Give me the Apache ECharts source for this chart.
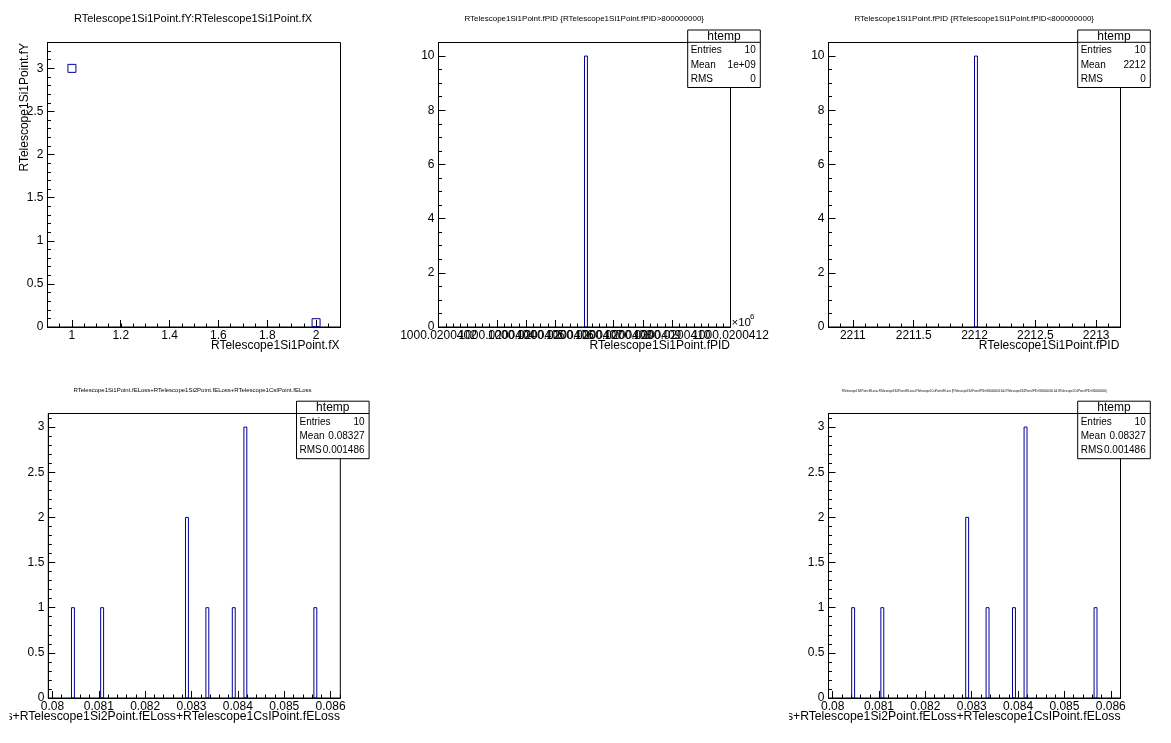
<!DOCTYPE html>
<html>
<head>
<meta charset="utf-8">
<script src="https://cdn.jsdelivr.net/npm/echarts@6/dist/echarts.min.js"></script>
<style>
  html, body { margin: 0; padding: 0; background: #fff; }
  #canvas { width: 1171px; height: 743px; }
</style>
</head>
<body>
<div id="canvas"></div>
<script>
(function() {
  var FONT = '"Liberation Sans", Arial, Helvetica, sans-serif';
  var HIST = '#000099';

  // --- data ---
  // pad 1: fY vs fX scatter
  var scatterX = [1, 2];
  var scatterY = [3, 0.05];
  // pad 2: fPID > 800000000 (x in units of 10^6)
  var pidHighBinLow = [1000.0200407];
  var pidHighCounts = [10];
  var pidHighBinWidth = 0.00000001;
  // pad 3: fPID < 800000000
  var pidLowBinLow = [2212.0];
  var pidLowCounts = [10];
  var pidLowBinWidth = 0.024;
  // pads 4 and 6: summed energy loss
  var elossBinLow = [0.08041, 0.08104, 0.08287, 0.08331, 0.08388, 0.08413, 0.08564];
  var elossCounts = [1, 1, 2, 1, 1, 3, 1];
  var elossBinWidth = 0.000063;

  // --- tick labels ---
  var fxTicks = [1, 1.2, 1.4, 1.6, 1.8, 2];
  var fyTicks = [0, 0.5, 1, 1.5, 2, 2.5, 3];
  var pidHighTicks = [1000.0200402, 1000.0200403, 1000.0200404, 1000.0200405, 1000.0200406,
    1000.0200407, 1000.0200408, 1000.0200409, 1000.0200410, 1000.0200411, 1000.0200412];
  var pidLowTicks = [2211, 2211.5, 2212, 2212.5, 2213];
  var countTicks = [0, 2, 4, 6, 8, 10];
  var elossTicks = [0.08, 0.081, 0.082, 0.083, 0.084, 0.085, 0.086];
  var elossCountTicks = [0, 0.5, 1, 1.5, 2, 2.5, 3];

  // --- stats boxes ---
  var statsPidHigh = [['Entries', '10'], ['Mean', '1e+09'], ['RMS', '0']];
  var statsPidLow = [['Entries', '10'], ['Mean', '2212'], ['RMS', '0']];
  var statsEloss = [['Entries', '10'], ['Mean', '0.08327'], ['RMS', '0.001486']];

  var titleFY = 'RTelescope1Si1Point.fY:RTelescope1Si1Point.fX';
  var titlePidHigh = 'RTelescope1Si1Point.fPID {RTelescope1Si1Point.fPID>800000000}';
  var titlePidLow = 'RTelescope1Si1Point.fPID {RTelescope1Si1Point.fPID<800000000}';
  var elossExpr = 'RTelescope1Si1Point.fELoss+RTelescope1Si2Point.fELoss+RTelescope1CsIPoint.fELoss';
  var titleElossCut = elossExpr + ' {RTelescope1Si1Point.fPID<800000000 && RTelescope1Si2Point.fPID<800000000 && RTelescope1CsIPoint.fPID<800000000}';

  function minorTicks(first, step, last) {
    var out = [];
    var n = Math.round((last - first) / step);
    for (var k = 0; k <= n; k++) out.push(first + k * step);
    return out;
  }

  var grids = [
    { left: 47.5, top: 42.5, width: 293, height: 284.5 },
    { left: 438.5, top: 42.5, width: 292, height: 284.5 },
    { left: 828.5, top: 42.5, width: 292, height: 284.5 },
    { left: 48.3, top: 413.5, width: 292, height: 284.5 },
    { left: 828.5, top: 413.5, width: 292, height: 284.5 }
  ].map(function(g) {
    g.show = true;
    g.borderColor = '#000';
    g.borderWidth = 1;
    g.backgroundColor = 'transparent';
    g.containLabel = false;
    return g;
  });

  var xAxes = [];
  var yAxes = [];

  function addAxes(list, dim, gridIndex, min, max, majors, minors, fmt) {
    var pos = dim === 'x' ? 'bottom' : 'left';
    list.push({
      type: 'value', gridIndex: gridIndex, min: min, max: max, position: pos,
      axisLine: { show: true, onZero: false, lineStyle: { color: '#000', width: 1 } },
      axisTick: { show: true, inside: true, length: 7, customValues: majors, lineStyle: { color: '#000', width: 1 } },
      axisLabel: {
        show: true, customValues: majors, formatter: fmt, color: '#000',
        fontSize: 12, fontFamily: FONT, margin: dim === 'x' ? 3 : 4,
        showMinLabel: true, showMaxLabel: true, hideOverlap: false
      },
      splitLine: { show: false }
    });
    list.push({
      type: 'value', gridIndex: gridIndex, min: min, max: max, position: pos,
      axisLine: { show: false, onZero: false },
      axisTick: { show: true, inside: true, length: 3.5, customValues: minors, lineStyle: { color: '#000', width: 1 } },
      axisLabel: { show: false },
      splitLine: { show: false }
    });
  }

  var plain = function(v) { return String(+v.toFixed(6)); };

  // pad 1
  addAxes(xAxes, 'x', 0, 0.9, 2.1, fxTicks, minorTicks(0.9, 0.05, 2.1), plain);
  addAxes(yAxes, 'y', 0, 0, 3.3, fyTicks, minorTicks(0, 0.1, 3.3), plain);
  // pad 2
  addAxes(xAxes, 'x', 1, 1000.0200402, 1000.0200412, pidHighTicks,
    minorTicks(1000.0200402, 0.000000025, 1000.0200412), function(v) { return v.toFixed(7); });
  addAxes(yAxes, 'y', 1, 0, 10.5, countTicks, minorTicks(0, 0.5, 10.5), plain);
  // pad 3
  addAxes(xAxes, 'x', 2, 2210.8, 2213.2, pidLowTicks, minorTicks(2210.8, 0.1, 2213.2), plain);
  addAxes(yAxes, 'y', 2, 0, 10.5, countTicks, minorTicks(0, 0.5, 10.5), plain);
  // pad 4
  addAxes(xAxes, 'x', 3, 0.07991, 0.08621, elossTicks, minorTicks(0.08, 0.0002, 0.0862), plain);
  addAxes(yAxes, 'y', 3, 0, 3.15, elossCountTicks, minorTicks(0, 0.1, 3.1), plain);
  // pad 6
  addAxes(xAxes, 'x', 4, 0.07991, 0.08621, elossTicks, minorTicks(0.08, 0.0002, 0.0862), plain);
  addAxes(yAxes, 'y', 4, 0, 3.15, elossCountTicks, minorTicks(0, 0.1, 3.1), plain);

  function histSeries(axisIndex, lows, counts, width) {
    return {
      type: 'custom',
      xAxisIndex: axisIndex, yAxisIndex: axisIndex,
      clip: true,
      silent: true,
      data: lows.map(function(l, i) { return [l, counts[i], l + width]; }),
      renderItem: function(params, api) {
        var p0 = api.coord([api.value(0), api.value(1)]);
        var p1 = api.coord([api.value(2), 0]);
        return {
          type: 'rect',
          shape: { x: p0[0], y: p0[1], width: p1[0] - p0[0], height: p1[1] - p0[1] },
          style: { fill: 'none', stroke: HIST, lineWidth: 1 }
        };
      }
    };
  }

  var series = [
    {
      type: 'scatter',
      xAxisIndex: 0, yAxisIndex: 0,
      symbol: 'rect', symbolSize: 8,
      silent: true,
      itemStyle: { color: 'rgba(0,0,0,0)', borderColor: HIST, borderWidth: 1, opacity: 1 },
      data: scatterX.map(function(x, i) { return [x, scatterY[i]]; })
    },
    histSeries(2, pidHighBinLow, pidHighCounts, pidHighBinWidth),
    histSeries(4, pidLowBinLow, pidLowCounts, pidLowBinWidth),
    histSeries(6, elossBinLow, elossCounts, elossBinWidth),
    histSeries(8, elossBinLow, elossCounts, elossBinWidth)
  ];

  function text(x, y, str, size, align, extra) {
    var el = {
      type: 'text', x: x, y: y, z: 100, silent: true,
      style: {
        text: str, fill: '#000', fontSize: size, fontFamily: FONT,
        textAlign: align, align: align,
        textVerticalAlign: 'middle', verticalAlign: 'middle'
      }
    };
    if (extra) for (var k in extra) el[k] = extra[k];
    return el;
  }

  function whiteout(x, y, w, h) {
    return { type: 'rect', z: 101, silent: true, shape: { x: x, y: y, width: w, height: h },
      style: { fill: '#fff', stroke: 'none' } };
  }

  function statsBox(x, y, rows) {
    var w = 72.6, h = 57.5;
    var els = [
      { type: 'rect', z: 100, silent: true, shape: { x: x, y: y, width: w, height: h },
        style: { fill: '#fff', stroke: '#000', lineWidth: 1 } },
      { type: 'line', z: 100, silent: true, shape: { x1: x, y1: y + 12.3, x2: x + w, y2: y + 12.3 },
        style: { stroke: '#000', lineWidth: 1 } },
      text(x + w / 2, y + 6.5, 'htemp', 12, 'center')
    ];
    rows.forEach(function(r, i) {
      els.push(text(x + 3, y + 20.7 + 14.3 * i, r[0], 10, 'left'));
      els.push(text(x + w - 4.6, y + 20.7 + 14.3 * i, r[1], 10, 'right'));
    });
    return els;
  }

  var graphics = [
    text(193, 19, titleFY, 11, 'center'),
    text(584.2, 19, titlePidHigh, 8, 'center'),
    text(974.2, 19, titlePidLow, 8, 'center'),
    text(192.5, 390.7, elossExpr, 6, 'center'),
    text(974.3, 391.7, titleElossCut, 2.75, 'center'),

    text(339.5, 345.7, 'RTelescope1Si1Point.fX', 12, 'right'),
    text(25, 43, 'RTelescope1Si1Point.fY', 12, 'right', { rotation: Math.PI / 2 }),
    text(730, 345.7, 'RTelescope1Si1Point.fPID', 12, 'right'),
    text(1119.3, 345.7, 'RTelescope1Si1Point.fPID', 12, 'right'),
    text(340, 716.7, elossExpr, 12.2, 'right'),
    text(1120.5, 716.7, elossExpr, 12.2, 'right'),
    // the long x titles are cut off at the left of their pads
    whiteout(0, 702, 9.5, 30),
    whiteout(390.5, 702, 398.5, 30),

    text(731.5, 322.5, '\u00d710', 11.5, 'left'),
    text(750, 316.5, '6', 8, 'left')
  ];
  graphics = graphics
    .concat(statsBox(687.7, 30, statsPidHigh))
    .concat(statsBox(1077.7, 30, statsPidLow))
    .concat(statsBox(296.5, 401.2, statsEloss))
    .concat(statsBox(1077.7, 401.2, statsEloss));

  var chart = echarts.init(document.getElementById('canvas'), null, { renderer: 'canvas' });
  chart.setOption({
    animation: false,
    backgroundColor: '#fff',
    textStyle: { fontFamily: FONT },
    grid: grids,
    xAxis: xAxes,
    yAxis: yAxes,
    series: series,
    graphic: graphics
  });
})();
</script>
</body>
</html>
